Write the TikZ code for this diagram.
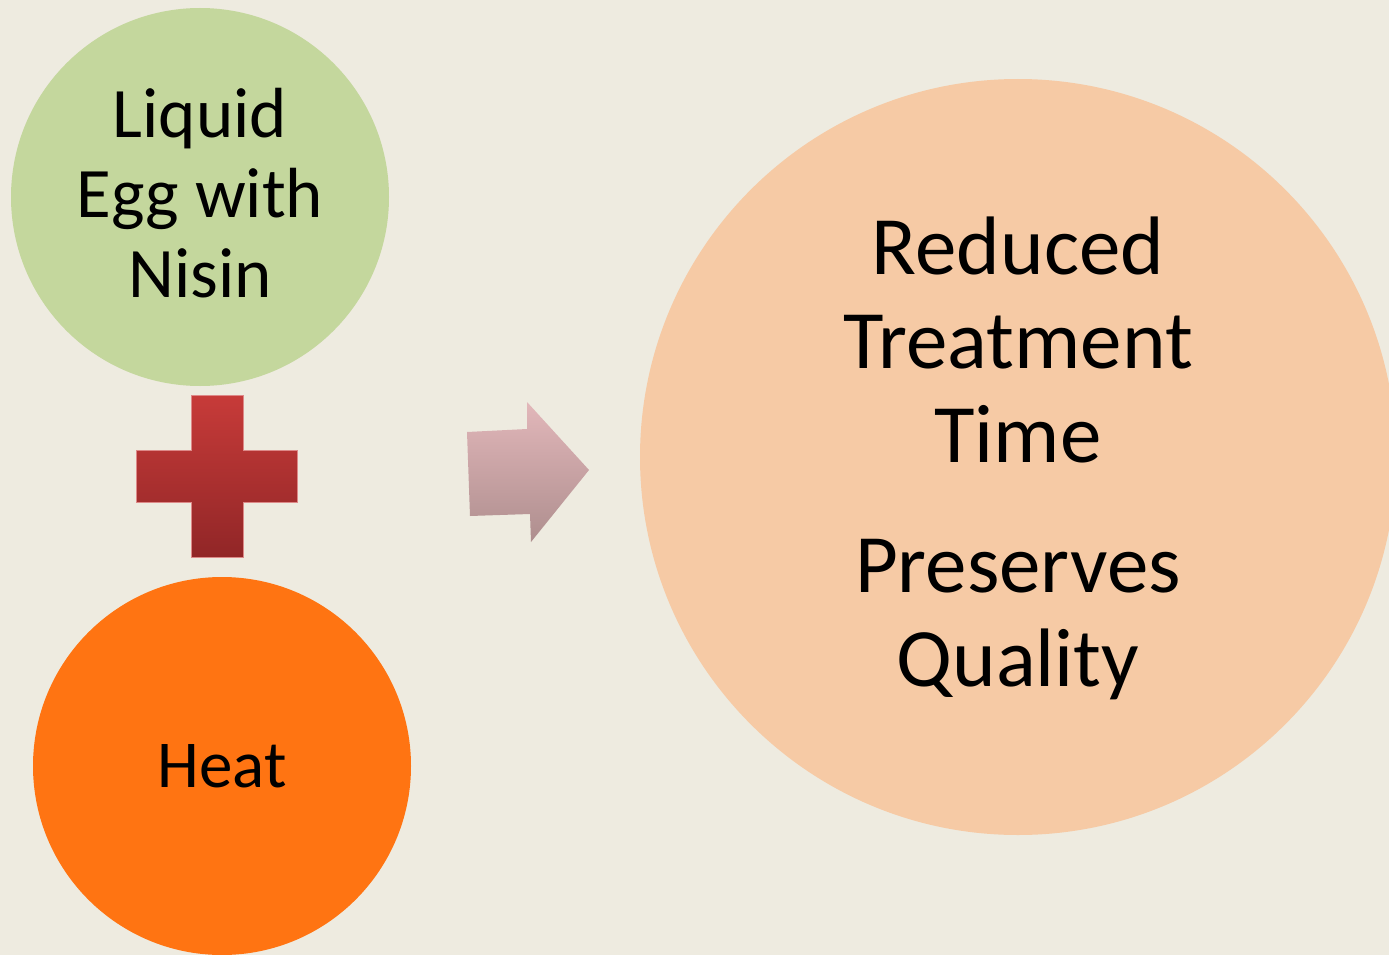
\documentclass[tikz,border=0pt]{standalone}
\usepackage{fontspec}
\setmainfont{Carlito}
\usepackage{xcolor}
\usepackage{tikz}

\definecolor{paper}{HTML}{EEEBE0}
\definecolor{eggGreen}{HTML}{C4D79D}
\definecolor{heatOrange}{HTML}{FF7412}
\definecolor{resultPeach}{HTML}{F6CAA5}
\definecolor{plusTop}{HTML}{C73B39}
\definecolor{plusBottom}{HTML}{912627}
\definecolor{arrowTop}{HTML}{E2B7BA}
\definecolor{arrowBottom}{HTML}{AE8E8E}

\begin{document}
\begin{tikzpicture}[x=1pt,y=-1pt,
	bubble/.style={circle,inner sep=0pt,align=center,text=black}]
	\fill[paper] (0,0) rectangle (1389,955);
	\useasboundingbox (0,0) rectangle (1389,955);
	\clip (0,0) rectangle (1389,955);
	\node[bubble,fill=eggGreen,minimum size=378pt,text depth=8pt,font=\fontsize{71}{80}\selectfont] (Egg) at (200,197)
		{Liquid\\Egg with\\Nisin};
	\node[bubble,fill=heatOrange,minimum size=378pt,font=\fontsize{67}{80}\selectfont] (Heat) at (222,766)
		{Heat};
	\node[bubble,fill=resultPeach,minimum size=756pt,text depth=10pt,font=\fontsize{83}{94}\selectfont] (Result) at (1018,457)
		{Reduced\\Treatment\\Time\\[36pt]Preserves\\Quality};
	% draw the plus
	\shade[top color=plusTop,bottom color=plusBottom,draw=plusTop!60!white,line width=0.8pt]
		(191,395) -- (243,395) -- (243,450) -- (297,450) -- (297,502) -- (243,502)
		-- (243,557) -- (191,557) -- (191,502) -- (136,502) -- (136,450) -- (191,450) -- cycle;
	% draw the arrow
	\shade[top color=arrowTop,bottom color=arrowBottom]
		(467,432) -- (527,429) -- (527,402) -- (589,470) -- (531,542) -- (530,514)
		-- (470,516) -- cycle;
\end{tikzpicture}
\end{document}
